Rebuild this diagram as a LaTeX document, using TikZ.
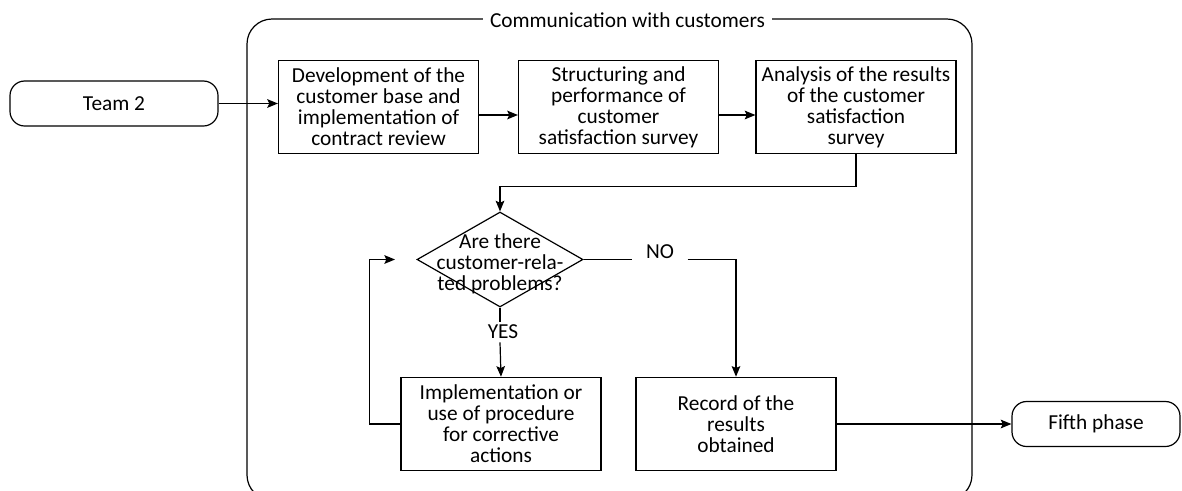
\documentclass[tikz,border=0pt]{standalone}
\usepackage{fontspec}
\setmainfont{Carlito}
\usetikzlibrary{arrows.meta,shapes.geometric}

\tikzset{
  proc/.style={draw,line width=0.9pt,align=center,inner sep=1pt,minimum width=150pt,minimum height=70pt},
  term/.style={draw,line width=0.9pt,rounded corners=11pt,align=center,minimum height=33.75pt},
  decision/.style={draw,diamond,line width=0.9pt,inner sep=0pt,minimum width=124.5pt,minimum height=71.25pt},
  arr/.style={line width=0.9pt,-{Stealth[length=8pt,width=6.5pt,inset=1.5pt]}},
  conn/.style={line width=0.9pt}
}

\begin{document}
\begin{tikzpicture}[x=0.75pt,y=-0.75pt,font=\fontsize{16pt}{15.8pt}\selectfont]
\useasboundingbox (0,0) rectangle (1182,490);
\clip (0,0) rectangle (1182,490);
% frame
\draw[conn,rounded corners=18.75pt] (247,19) rectangle (972,500);
\node[fill=white,inner xsep=5pt,inner ysep=1pt] (title) at (627.5,20) {Communication with customers};
% nodes
\node[term,minimum width=156pt] (team) at (114,103.5) {Team 2};
\node[proc] (b1) at (378.5,107) {Development of the\\customer base and\\implementation of\\contract review};
\node[proc] (b2) at (618.5,107) {Structuring and\\performance of\\customer\\satisfaction survey};
\node[proc] (b3) at (856,107) {Analysis of the results\\of the customer\\satisfaction\\survey};
\node[decision] (dec) at (500,259.5) {};
\node[align=center,inner sep=0pt] (dectxt) at (500,264) {Are there\\customer-rela-\\ted problems?};
\node[inner sep=0pt,minimum width=41pt,minimum height=15pt] (no) at (660,252) {NO};
\node[inner sep=0pt,minimum height=15pt] (yes) at (503,332) {YES};
\node[proc] (impl) at (501,424) {Implementation or\\use of procedure\\for corrective\\actions};
\node[proc] (rec) at (736,424) {Record of the\\results\\obtained};
\node[term,minimum width=126pt] (fifth) at (1096,424) {Fifth phase};
\coordinate (back) at (395,259.5);
% connectors
\draw[arr] (team.east) -- (team.east -| b1.west);
\draw[arr] ([yshift=-6pt]b1.east) -- ([yshift=-6pt]b2.west);
\draw[arr] ([yshift=-6pt]b2.east) -- ([yshift=-6pt]b3.west);
\draw[arr] (b3.south) -- ++(0,32) -| (dec.north);
\draw[conn] (dec.east) -- (dec.east -| no.west);
\draw[arr] (dec.east -| no.east) -| (rec.north);
\draw[conn] (dec.south) -- (dec.south |- yes.north);
\draw[arr] (dec.south |- yes.south) -- (impl.north);
\draw[arr] (impl.west) -- ++(-31,0) |- (back);
\draw[arr] (rec.east) -- (fifth.west);
\end{tikzpicture}
\end{document}
